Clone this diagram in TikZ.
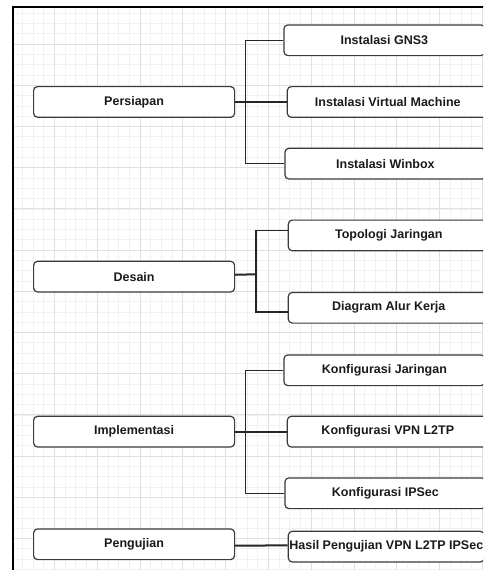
\documentclass[tikz,border=0pt]{standalone}
\usepackage{fontspec}
\setmainfont{Liberation Sans}
\definecolor{boxline}{HTML}{3A3A3A}
\definecolor{linec}{HTML}{262626}
\definecolor{txt}{HTML}{1A1A1A}
\definecolor{gridmajor}{HTML}{E0E0E0}
\definecolor{gridminor}{HTML}{F1F1F1}
\tikzset{
  stagebox/.style={draw=boxline, line width=1.2pt, fill=white, rounded corners=4pt,
    minimum width=201pt, minimum height=30.7pt, inner sep=0pt, anchor=north west,
    text=txt, font=\fontsize{12.5}{15}\selectfont\bfseries},
  mainline/.style={draw=linec, line width=2pt},
  branchline/.style={draw=linec, line width=1.3pt},
  minorgrid/.style={draw=gridminor, line width=0.6pt},
  majorgrid/.style={draw=gridmajor, line width=0.8pt},
  frameline/.style={draw=black, line width=2.2pt}
}
\begin{document}
\begin{tikzpicture}[x=1pt,y=-1pt]
\useasboundingbox (0,0) rectangle (483,570);
\clip (0,0) rectangle (483,570);
\fill[white] (0,0) rectangle (483,570);
% grid
\begin{scope}
\clip (13,7) rectangle (483,570);
\foreach \i in {0,...,46} { \draw[minorgrid] (11.5+\i*10.7,0) -- (11.5+\i*10.7,570); }
\foreach \i in {0,...,56} { \draw[minorgrid] (0,2.8+\i*10.3) -- (483,2.8+\i*10.3); }
\foreach \i in {0,...,11} { \draw[majorgrid] (11.5+\i*42.8,0) -- (11.5+\i*42.8,570); }
\foreach \i in {0,...,14} { \draw[majorgrid] (0,2.8+\i*41.2) -- (483,2.8+\i*41.2); }
\end{scope}
% frame
\draw[frameline] (13,575) -- (13,7) -- (490,7);
% left stages
\node[stagebox] (P) at (33,86) {Persiapan};
\node[stagebox] (D) at (33,260.7) {Desain};
\node[stagebox] (I) at (33,415.7) {Implementasi};
\node[stagebox] (U) at (33,528.3) {Pengujian};
% right items
\node[stagebox] (G) at (283.3,24.3) {Instalasi GNS3};
\node[stagebox] (VM) at (286.7,86) {Instalasi Virtual Machine};
\node[stagebox] (W) at (284.3,147.7) {Instalasi Winbox};
\node[stagebox] (T) at (287.7,219.5) {Topologi Jaringan};
\node[stagebox] (A) at (287.7,291.8) {Diagram Alur Kerja};
\node[stagebox] (K) at (283.3,354.3) {Konfigurasi Jaringan};
\node[stagebox] (V) at (286.7,415.7) {Konfigurasi VPN L2TP};
\node[stagebox] (S) at (284.3,477.3) {Konfigurasi IPSec};
\node[stagebox, minimum width=196pt] (H) at (287.7,530.7) {Hasil Pengujian VPN L2TP IPSec};
% junctions
\coordinate (jP) at (245.7,101.3);
\coordinate (jD) at (256,274.3);
\coordinate (jI) at (245.7,430.9);
% connectors
\draw[branchline] (G.west) -| (jP) |- (W.west);
\draw[mainline] (P.east) -- (VM.west);
\draw[branchline] ([yshift=5pt]T.west) -| (jD) |- ([yshift=-4.2pt]A.west);
\draw[mainline] ([yshift=1.9pt]D.east) -- (jD);
\draw[branchline] (K.west) -| (jI) |- (S.west);
\draw[mainline] (I.east) -- (V.west);
\draw[mainline] ([yshift=-1.3pt]U.east) -- ([yshift=1.2pt]H.west);
\end{tikzpicture}
\end{document}
